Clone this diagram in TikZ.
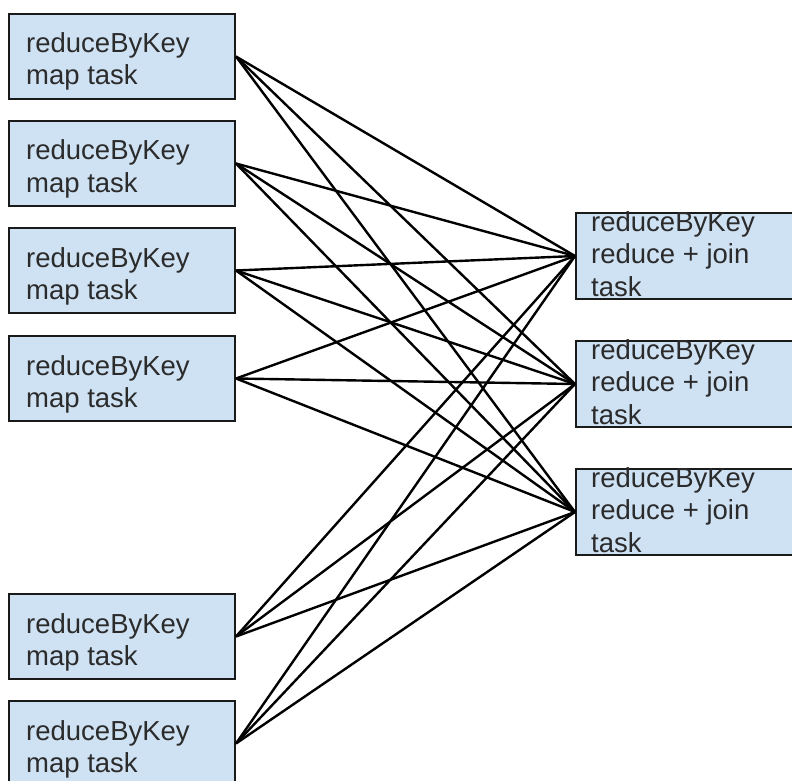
\documentclass[tikz,border=0pt]{standalone}
\usepackage{fontspec}
\setmainfont{Liberation Sans}
\definecolor{boxfill}{HTML}{CFE2F3}
\definecolor{txtcol}{HTML}{2B2B2B}
\definecolor{edgecol}{HTML}{1A1A1A}
\begin{document}
\begin{tikzpicture}[x=1pt,y=-1pt,
  mapbox/.style={draw=edgecol, line width=2pt, fill=boxfill, minimum width=226pt, minimum height=85pt, inner sep=0pt, anchor=north west},
  redbox/.style={draw=edgecol, line width=2pt, fill=boxfill, minimum width=240pt, minimum height=86pt, inner sep=0pt, anchor=north west},
  lbl/.style={anchor=base west, inner sep=0pt, text=txtcol, font=\fontsize{27.5}{30}\selectfont},
  wire/.style={line width=2.4pt, black}]
\useasboundingbox (0,0) rectangle (792,781);
\clip (0,0) rectangle (792,781);
\fill[white] (0,0) rectangle (792,781);
% map task boxes
\foreach \n/\y in {m1/13, m2/120, m3/227, m4/335, m5/593, m6/700}{
  \node[mapbox] (\n) at (8,\y) {};
  \node[lbl] (\n a) at ([xshift=18pt,yshift=-40pt]\n.north west) {reduceByKey};
  \node[lbl] (\n b) at ([xshift=18pt,yshift=-72pt]\n.north west) {map task};
}
% reduce tasks
\foreach \n/\y in {r1/212, r2/340, r3/468}{
  \node[redbox] (\n) at (575,\y) {};
  \node[lbl] (\n a) at ([xshift=16pt,yshift=-19pt]\n.north west) {reduceByKey};
  \node[lbl] (\n b) at ([xshift=16pt,yshift=-51pt]\n.north west) {reduce + join};
  \node[lbl] (\n c) at ([xshift=16pt,yshift=-84pt]\n.north west) {task};
}
% connectors
\foreach \m in {m1,m2,m3,m4,m5,m6}{
  \foreach \r in {r1,r2,r3}{
    \draw[wire] (\m.east) -- (\r.west);
  }
}
\end{tikzpicture}
\end{document}
